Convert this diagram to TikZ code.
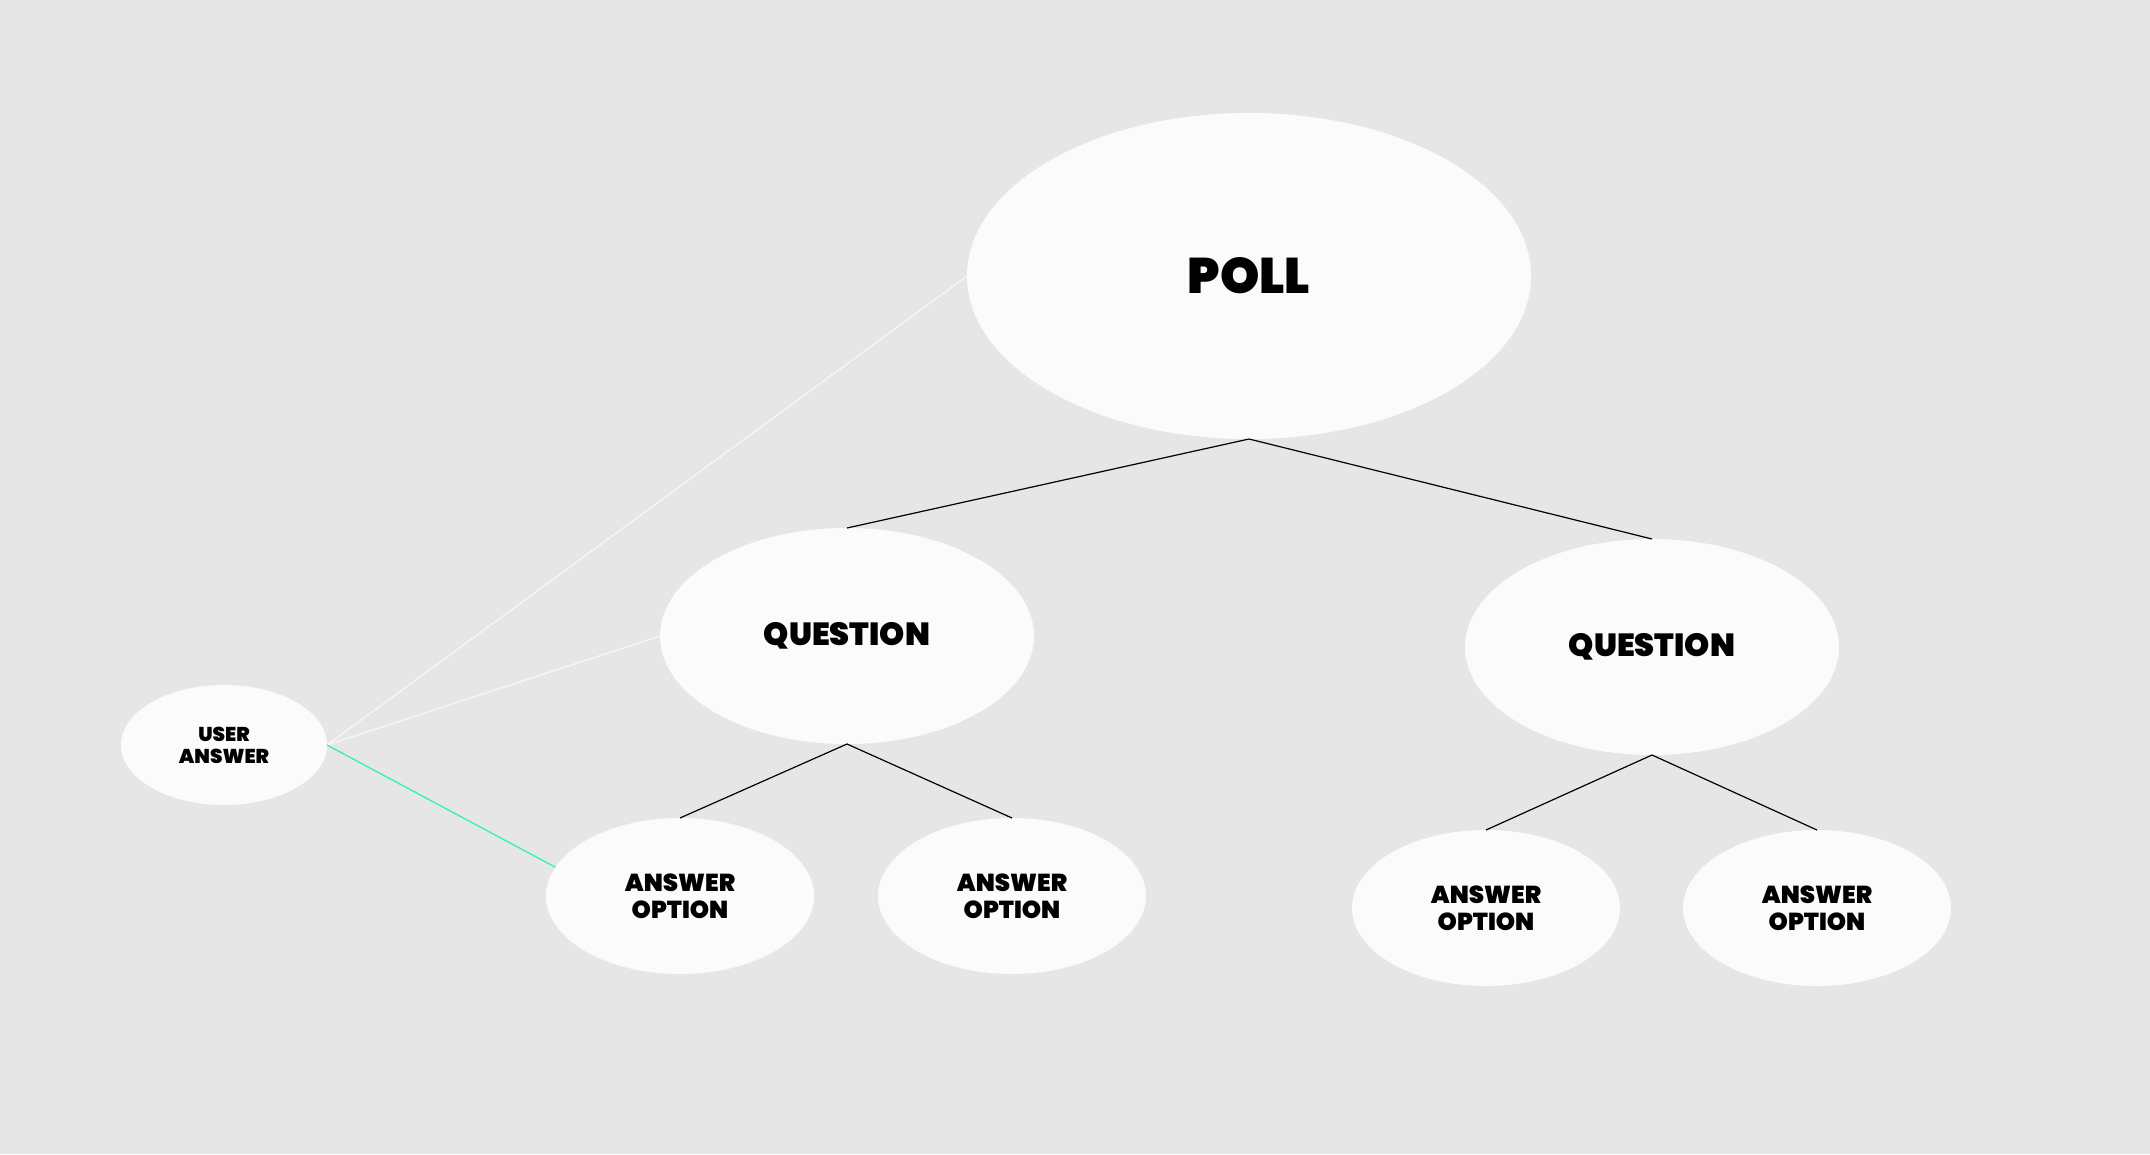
\documentclass[tikz,border=0pt]{standalone}
\usepackage{fontspec}
\setmainfont{Poppins}[BoldFont={Poppins Black}]
\usetikzlibrary{shapes.geometric}
\definecolor{bgc}{HTML}{E6E6E6}
\definecolor{nodec}{HTML}{FBFBFB}
\definecolor{linkc}{HTML}{F7F7F7}
\definecolor{greenc}{HTML}{33F2B0}
\begin{document}
\begin{tikzpicture}[x=1pt,y=-1pt,
  blob/.style={ellipse,fill=nodec,draw=none,inner sep=0pt,outer sep=0pt,align=center,font=\bfseries},
  big/.style={blob,minimum width=564pt,minimum height=326pt,font=\fontsize{50}{54}\selectfont\bfseries},
  ques/.style={blob,minimum width=374pt,minimum height=216pt,font=\fontsize{32}{35}\selectfont\bfseries},
  opt/.style={blob,minimum width=268pt,minimum height=156pt,font=\fontsize{24.5}{27}\selectfont\bfseries},
  usr/.style={blob,minimum width=206pt,minimum height=120pt,font=\fontsize{20}{22}\selectfont\bfseries},
  tree/.style={draw=black,line width=1.2pt},
  soft/.style={draw=linkc,line width=1.3pt},
  hot/.style={draw=greenc,line width=1.3pt}]
\path[fill=bgc] (0,0) rectangle (2150,1154);
\node[big] (poll) at (1249,276) {POLL};
\node[ques] (q1) at (847,636) {QUESTION};
\node[ques] (q2) at (1652,647) {QUESTION};
\node[usr] (ua) at (224,745) {USER\\ANSWER};
\node[opt] (ao1) at (680,896) {ANSWER\\OPTION};
\node[opt] (ao2) at (1012,896) {ANSWER\\OPTION};
\node[opt] (ao3) at (1486,908) {ANSWER\\OPTION};
\node[opt] (ao4) at (1817,908) {ANSWER\\OPTION};
\draw[tree] (poll.south) -- (q1.north);
\draw[tree] (poll.south) -- (q2.north);
\draw[tree] (q1.south) -- (ao1.north);
\draw[tree] (q1.south) -- (ao2.north);
\draw[tree] (q2.south) -- (ao3.north);
\draw[tree] (q2.south) -- (ao4.north);
\draw[soft] (ua.east) -- (poll.west);
\draw[soft] (ua.east) -- (q1.west);
\draw[hot] (ua.east) -- (ao1.167);
\end{tikzpicture}
\end{document}
